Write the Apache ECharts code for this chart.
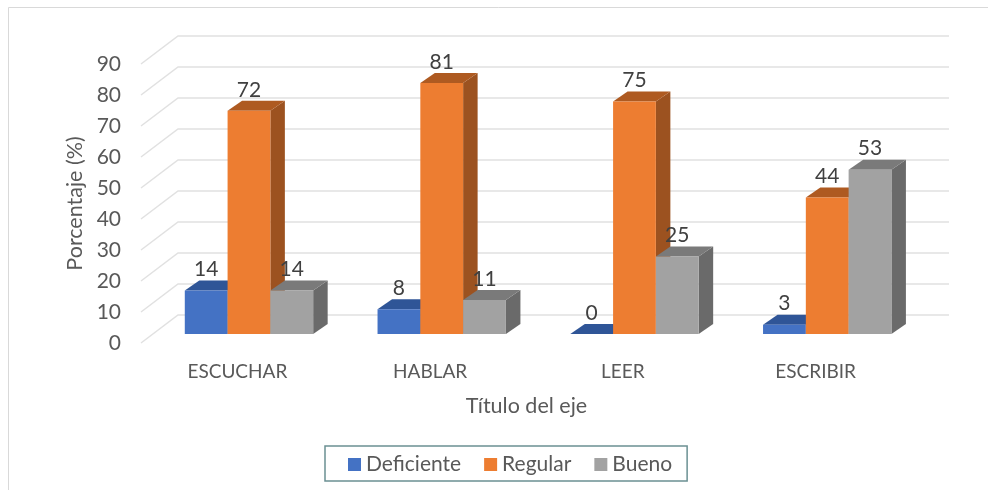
<!DOCTYPE html>
<html>
<head>
<meta charset="utf-8">
<style>
  html, body { margin: 0; padding: 0; background: #fff; }
  #chart { width: 988px; height: 490px; }
</style>
<script src="https://cdn.jsdelivr.net/npm/echarts@6/dist/echarts.min.js"></script>
</head>
<body>
<div id="chart"></div>
<script>
var categories = ['ESCUCHAR', 'HABLAR', 'LEER', 'ESCRIBIR'];
var deficiente = [14, 8, 0, 3];
var regular = [72, 81, 75, 44];
var bueno = [14, 11, 25, 53];
var yTicks = [0, 10, 20, 30, 40, 50, 60, 70, 80, 90];

var font = 'Lato';
var textColor = '#595959';

// fake 3d: the grid is the front plane, the wall and the bars are pushed back from it
var wallDx = 37, wallDy = -28;
var barDx = 11.6, barDy = -9;
var depthDx = 14.5, depthDy = -10;

function pairs(values) {
    return values.map(function (v, i) { return [i, v]; });
}

function poly(points, color) {
    return { type: 'polygon', shape: { points: points }, style: { fill: color } };
}

function barRenderer(slot, front, top, side) {
    return function (params, api) {
        var barW = api.size([1, 0])[0] * 0.222;
        var p = api.coord([api.value(0), api.value(1)]);
        var b = api.coord([api.value(0), 0]);
        var x0 = p[0] + barDx + (slot - 1.5) * barW;
        var x1 = x0 + barW;
        var yTop = p[1] + barDy;
        var yBase = b[1] + barDy;
        return {
            type: 'group',
            children: [
                poly([[x1, yTop], [x1 + depthDx, yTop + depthDy], [x1 + depthDx, yBase + depthDy], [x1, yBase]], side),
                poly([[x0, yTop], [x0 + depthDx, yTop + depthDy], [x1 + depthDx, yTop + depthDy], [x1, yTop]], top),
                poly([[x0, yTop], [x1, yTop], [x1, yBase], [x0, yBase]], front),
                {
                    type: 'text',
                    z2: 50,
                    style: {
                        x: x0 + barW / 2,
                        y: yTop - 21,
                        text: String(api.value(1)),
                        fill: '#404040',
                        font: '21px ' + font,
                        align: 'center',
                        verticalAlign: 'middle'
                    }
                }
            ]
        };
    };
}

function barSeries(name, values, slot, front, top, side, z) {
    return {
        name: name,
        type: 'custom',
        z: z,
        data: pairs(values),
        itemStyle: { color: front },
        renderItem: barRenderer(slot, front, top, side)
    };
}

var myChart = echarts.init(document.getElementById('chart'));

var option = {
    animation: false,
    backgroundColor: '#ffffff',
    textStyle: { fontFamily: font },
    graphic: [
        {
            type: 'polyline',
            silent: true,
            z: -1,
            shape: { points: [[8.5, 490], [8.5, 7.5], [988, 7.5]] },
            style: { stroke: '#d9d9d9', lineWidth: 1, fill: null }
        }
    ],
    grid: { left: 141, right: 76, top: 64, bottom: 147 },
    legend: {
        data: ['Deficiente', 'Regular', 'Bueno'],
        left: 325,
        top: 446,
        padding: [8, 15, 6, 23],
        itemWidth: 13,
        itemHeight: 13,
        itemGap: 23,
        icon: 'rect',
        borderColor: '#6b9093',
        borderWidth: 1.5,
        textStyle: { color: textColor, fontSize: 21, fontFamily: font }
    },
    xAxis: {
        type: 'category',
        data: categories,
        name: 'Título del eje',
        nameLocation: 'middle',
        nameGap: 52,
        nameTextStyle: { color: textColor, fontSize: 21.5, fontFamily: font },
        axisLine: { show: false },
        axisTick: { show: false },
        axisLabel: { color: textColor, fontSize: 19, margin: 19, fontFamily: font }
    },
    yAxis: {
        type: 'value',
        min: 0,
        max: 90,
        interval: 10,
        name: 'Porcentaje (%)',
        nameLocation: 'middle',
        nameGap: 53,
        nameTextStyle: { color: textColor, fontSize: 21.5, fontFamily: font },
        axisLine: { show: false },
        axisTick: { show: false },
        splitLine: { show: false },
        axisLabel: { color: textColor, fontSize: 21, margin: 20, fontFamily: font }
    },
    series: [
        {
            type: 'custom',
            z: 1,
            silent: true,
            data: pairs(yTicks).map(function (d) { return [0, d[1]]; }),
            renderItem: function (params, api) {
                var sys = params.coordSys;
                var y = api.coord([0, api.value(1)])[1];
                return {
                    type: 'polyline',
                    shape: { points: [[sys.x, y], [sys.x + wallDx, y + wallDy], [sys.x + wallDx + sys.width, y + wallDy]] },
                    style: { stroke: '#e1e1e1', lineWidth: 1.5, fill: null }
                };
            }
        },
        barSeries('Deficiente', deficiente, 0, '#4472C4', '#2F5597', '#264478', 2),
        barSeries('Regular', regular, 1, '#ED7D31', '#AE5A21', '#9C5220', 3),
        barSeries('Bueno', bueno, 2, '#A2A2A2', '#7A7A7A', '#6A6A6A', 4)
    ]
};

myChart.setOption(option);
</script>
</body>
</html>
